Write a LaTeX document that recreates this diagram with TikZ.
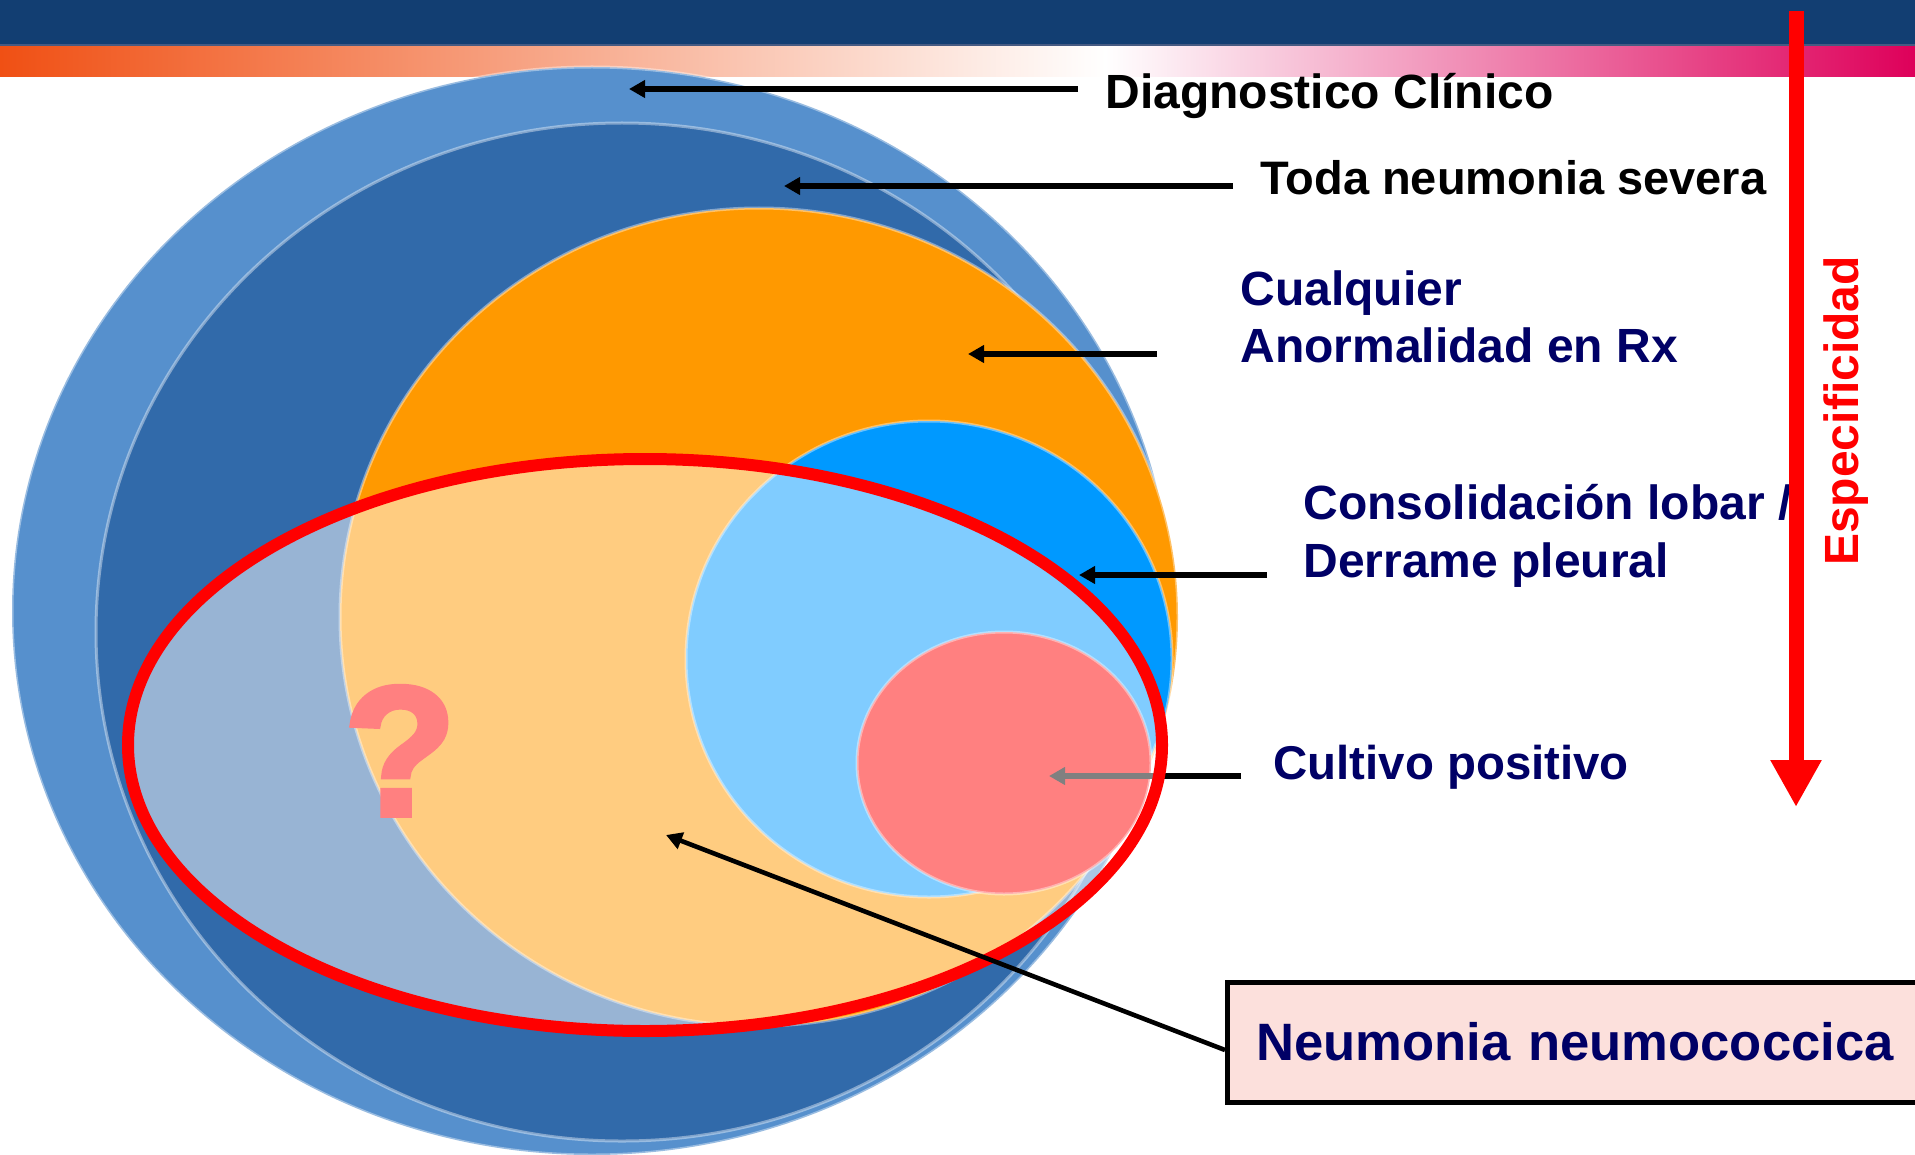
\documentclass[tikz,border=0pt]{standalone}
\usepackage{fontspec}
\setmainfont{Liberation Sans}
\newfontfamily\qmfont[FakeBold=3]{Liberation Sans Bold}
\usetikzlibrary{arrows.meta}
\definecolor{navybar}{RGB}{18,62,114}
\definecolor{barline}{RGB}{70,90,130}
\definecolor{gOr}{RGB}{240,80,20}
\definecolor{gOr2}{RGB}{246,140,80}
\definecolor{gPk}{RGB}{236,120,160}
\definecolor{gMg}{RGB}{222,0,90}
\definecolor{cOuter}{RGB}{86,144,205}
\definecolor{cDark}{RGB}{49,106,170}
\definecolor{cOrange}{RGB}{255,153,0}
\definecolor{cBlue}{RGB}{0,153,255}
\definecolor{txtnavy}{RGB}{0,0,102}
\definecolor{boxfill}{RGB}{252,224,220}
\begin{document}
\begin{tikzpicture}[x=0.5pt,y=-0.5pt,
  lbl/.style={font=\fontsize{24}{28}\selectfont\bfseries, inner sep=0pt, anchor=base west},
  ring/.style={draw=white, draw opacity=0.4, line width=1.5pt},
  pointer/.style={line width=2.6pt, -{Triangle[length=8pt,width=8.5pt]}},
]
\useasboundingbox (0,0) rectangle (1915,1155);
\fill[white] (0,0) rectangle (1915,1155);
% header
\fill[navybar] (0,0) rectangle (1915,46);
\fill[barline] (0,44) rectangle (1915,48);
\shade[left color=gOr, middle color=gOr2, right color=white] (0,47) rectangle (1106,77);
\shade[left color=white, middle color=gPk, right color=gMg] (1105,47) rectangle (1915,77);
% nested sets
\fill[cOuter, ring] (592,611) ellipse [x radius=580, y radius=544];
\fill[cDark, ring] (622,632) ellipse [x radius=526, y radius=509];
\fill[cOrange, ring] (759,617) ellipse [x radius=419, y radius=409];
\fill[cBlue, ring] (929,659) ellipse [x radius=243, y radius=238];
\fill[red, ring] (1004,763) ellipse [x radius=147, y radius=131];
\node[font=\fontsize{92}{100}\qmfont, text=red, inner sep=0pt, anchor=base] (qm) at (400,815) {?};
% cultivo arrow (partly under overlay)
\coordinate (cultS) at (1241,776);
\coordinate (cultT) at (1049,776);
\draw[pointer] (cultS) -- (cultT);
% overlay and red ellipse
\fill[white, fill opacity=0.5] (645,745) ellipse [x radius=517, y radius=286];
\draw[red, line width=6pt] (645,745) ellipse [x radius=517, y radius=286];
% labels
\node[lbl] (tDiag) at (1105,109) {Diagnostico Clínico};
\node[lbl, font=\fontsize{23.5}{28}\selectfont\bfseries] (tToda) at (1260,195) {Toda neumonia severa};
\node[lbl, text=txtnavy] (tCualA) at (1240,305) {Cualquier};
\node[lbl, text=txtnavy] (tCualB) at (1240,362) {Anormalidad en Rx};
\node[lbl, text=txtnavy] (tConsA) at (1303,519) {Consolidación lobar /};
\node[lbl, text=txtnavy] (tConsB) at (1303,577) {Derrame pleural};
\node[lbl, text=txtnavy, font=\fontsize{23.7}{28}\selectfont\bfseries] (tCult) at (1273,779) {Cultivo positivo};
% pointers
\coordinate (diagS) at (1078,89);  \coordinate (diagT) at (629,89);
\coordinate (todaS) at (1233,186); \coordinate (todaT) at (784,186);
\coordinate (cualS) at (1157,354); \coordinate (cualT) at (968,354);
\coordinate (consS) at (1267,575); \coordinate (consT) at (1079,575);
\draw[pointer] (diagS) -- (diagT);
\draw[pointer] (todaS) -- (todaT);
\draw[pointer] (cualS) -- (cualT);
\draw[pointer] (consS) -- (consT);
% neumonia box
\node[draw=black, line width=2.5pt, fill=boxfill, anchor=west, minimum height=60pt,
      text width=330pt, inner xsep=14.5pt, align=left, text=txtnavy,
      font=\fontsize{26.3}{30}\selectfont\bfseries] (nBox) at (1225,1042) {Neumonia neumococcica};
\coordinate (neuT) at (666,835);
\draw[line width=2.3pt, -{Triangle[length=8pt,width=8.5pt]}] ([yshift=-4pt]nBox.west) -- (neuT);
% specificity arrow
\coordinate (espS) at (1796,11);
\coordinate (espT) at (1796,807);
\draw[red, line width=7.5pt, -{Triangle[length=23.5pt,width=24pt]}] (espS) -- (espT);
\node[font=\fontsize{24}{28}\selectfont\bfseries, text=red, rotate=90, anchor=base, inner sep=0pt] (tEsp) at (1858,411) {Especificidad};
\end{tikzpicture}
\end{document}
